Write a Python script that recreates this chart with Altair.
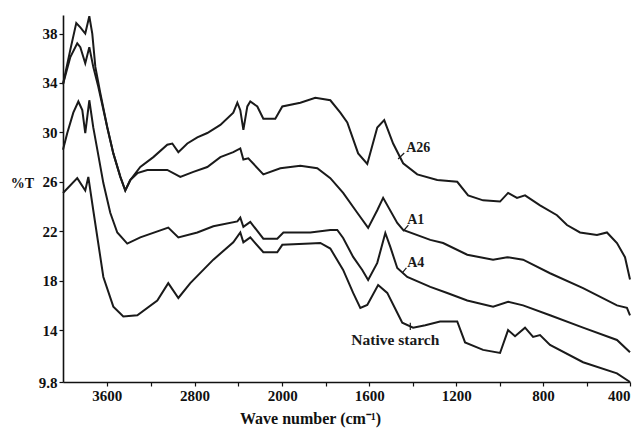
import altair as alt
import pandas as pd

# FTIR transmittance spectra (wavenumber in cm-1, transmittance in %T)
wn_a26 = [4000, 3933, 3879, 3842, 3797, 3760, 3733, 3705, 3660, 3596, 3541, 3477, 3432,
          3386, 3295, 3176, 3049, 3003, 2948, 2866, 2775, 2684, 2565, 2447, 2410, 2383,
          2355, 2319, 2292, 2228, 2173, 2064, 2000, 1917, 1848, 1779, 1733, 1701, 1651,
          1609, 1563, 1531, 1490, 1444, 1379, 1287, 1195, 1145, 1076, 998, 961, 920, 883,
          814, 736, 690, 630, 552, 506, 460, 423, 400]
t_a26 = [33.9, 36.7, 38.85, 38.5, 38.0, 39.4, 38.0, 35.3, 33.2, 30.4, 28.3, 26.4, 25.3,
         26.15, 27.2, 28.0, 29.0, 29.1, 28.4, 29.1, 29.6, 29.95, 30.6, 31.6, 32.4, 31.8,
         30.2, 32.1, 32.5, 32.1, 31.1, 31.1, 32.1, 32.4, 32.8, 32.6, 31.6, 30.8, 28.3,
         27.45, 30.4, 31.0, 29.1, 27.5, 26.6, 26.15, 26.0, 24.9, 24.5, 24.4, 25.1, 24.7, 24.9,
         24.1, 23.3, 22.5, 21.9, 21.7, 21.9, 21.05, 19.9, 18.1]

wn_a1 = [4000, 3933, 3870, 3842, 3797, 3760, 3724, 3678, 3596, 3541, 3477, 3432, 3386,
         3322, 3231, 3049, 2930, 2811, 2684, 2565, 2447, 2383, 2355, 2310, 2173, 2018,
         1917, 1839, 1779, 1720, 1655, 1605, 1563, 1536, 1471, 1444, 1319, 1260, 1149,
         1030, 965, 892, 768, 616, 460, 414, 400]
t_a1 = [33.9, 36.1, 37.2, 36.9, 35.6, 36.9, 35.3, 33.7, 30.4, 28.3, 26.4, 25.3, 26.15,
        26.7, 26.96, 26.96, 26.4, 26.8, 27.2, 28.0, 28.4, 28.7, 27.8, 27.9, 26.6, 27.1,
        27.3, 27.1, 26.3, 25.1, 23.5, 22.27, 23.7, 24.7, 22.67, 22.1, 21.3, 21.05, 20.1,
        19.7, 19.9, 19.7, 18.6, 17.4, 16.0, 15.8, 15.2]

wn_a4 = [4000, 3961, 3906, 3860, 3824, 3797, 3760, 3724, 3687, 3632, 3569, 3505, 3414,
         3295, 3040, 2948, 2775, 2629, 2410, 2383, 2355, 2292, 2173, 2046, 1995, 1871,
         1779, 1747, 1720, 1674, 1632, 1605, 1563, 1526, 1503, 1471, 1425, 1319, 1241, 1149,
         1030, 961, 892, 768, 616, 460, 400]
t_a4 = [28.6, 29.95, 31.6, 32.5, 31.8, 29.95, 32.6, 30.4, 28.6, 25.9, 23.5, 21.9, 21.0,
        21.5, 22.3, 21.5, 21.9, 22.4, 22.8, 23.1, 22.35, 22.75, 21.4, 21.4, 21.9, 21.9,
        22.1, 22.1, 21.46, 19.92, 18.87, 18.06, 19.44, 21.86, 20.73, 19.03, 18.3, 17.5, 17.0,
        16.4, 15.9, 16.3, 16.0, 15.2, 14.2, 13.2, 12.2]

wn_native = [4000, 3870, 3797, 3769, 3724, 3632, 3541, 3450, 3322, 3140, 3040, 2948, 2839,
             2629, 2447, 2383, 2355, 2292, 2173, 2046, 2000, 1871, 1825, 1779, 1720, 1674,
             1641, 1609, 1559, 1517, 1471, 1448, 1398, 1342, 1274, 1195, 1159, 1076, 998, 961,
             929, 883, 846, 814, 768, 616, 460, 400]
t_native = [25.1, 26.3, 25.3, 26.4, 23.7, 18.3, 15.9, 15.1, 15.2, 16.4, 17.8, 16.6, 17.8,
            19.7, 21.1, 21.9, 21.1, 21.5, 20.3, 20.3, 20.9, 21.0, 21.05, 20.6, 18.87, 17.01,
            15.79, 16.04, 17.65, 17.01, 15.4, 14.6, 14.2, 14.4, 14.7, 14.7, 13.0, 12.4, 12.15,
            14.0, 13.5, 14.2, 13.45, 13.6, 12.8, 11.4, 10.5, 9.8]

# curve labels and their short leader lines
label_text = ["A26", "A1", "A4", "Native starch"]
label_wn = [1430, 1425, 1425, 1480]
label_t = [28.7, 22.9, 19.4, 13.2]
label_align = ["left", "left", "left", "center"]
label_size = [14, 14, 14, 15.5]
leader_wn = [1467, 1444, 1448, 1411]
leader_wn2 = [1439, 1420, 1429, 1411]
leader_t = [27.85, 22.0, 18.63, 14.6]
leader_t2 = [28.33, 22.5, 19.03, 14.0]

x_ticks = [3600, 3200, 2800, 2400, 2000, 1800, 1600, 1400, 1200, 1000, 800, 600, 400]
x_labels = [3600, 2800, 2000, 1600, 1200, 800, 400]
y_ticks = [9.8, 12, 14, 16, 18, 20, 22, 24, 26, 28, 30, 32, 34, 36, 38]
y_labels = [9.8, 14, 18, 22, 26, 30, 34, 38]

W, H = 567, 367
FONT = "Liberation Serif"
INK = "#1a1a1a"

frames = []
for name, wn, t in [("A26", wn_a26, t_a26), ("A1", wn_a1, t_a1),
                    ("A4", wn_a4, t_a4), ("Native starch", wn_native, t_native)]:
    frames.append(pd.DataFrame({"sample": name, "wn": wn, "t": t}))
spectra = pd.concat(frames, ignore_index=True)

labels = pd.DataFrame({"text": label_text, "wn": label_wn, "t": label_t,
                       "align": label_align, "size": label_size})
leaders = pd.DataFrame({"wn": leader_wn, "wn2": leader_wn2, "t": leader_t, "t2": leader_t2})

# wavenumber axis is compressed above 2000 cm-1 (half scale)
x_scale = alt.Scale(domain=[4000, 2000, 400], range=[0, 219.3, W], nice=False, zero=False)
y_scale = alt.Scale(domain=[9.8, 39.5], nice=False, zero=False)

x_lab_expr = "indexof(" + str(x_labels) + ", datum.value) >= 0 ? format(datum.value, 'd') : ''"
y_lab_expr = ("datum.value == 9.8 ? '9.8' : (indexof(" + str(y_labels) +
              ", datum.value) >= 0 ? format(datum.value, 'd') : '')")

x_axis = alt.Axis(values=x_ticks, labelExpr=x_lab_expr, title="Wave number (cm\u207b\u00b9)",
                  titleX=247, titleY=36, titleBaseline="middle", titleFontSize=16,
                  labelFlush=True, tickSize=4, labelPadding=2)
y_axis = alt.Axis(values=y_ticks, labelExpr=y_lab_expr, title="%T", titleAngle=0,
                  titleX=-41, titleY=168, titleAlign="center", titleBaseline="middle",
                  titleFontSize=14, tickSize=4, labelPadding=2)

lines = alt.Chart(spectra).mark_line(color=INK, strokeWidth=2.0).encode(
    x=alt.X("wn:Q", scale=x_scale, axis=x_axis),
    y=alt.Y("t:Q", scale=y_scale, axis=y_axis),
    detail="sample:N",
    order=alt.Order("wn:Q", sort="descending"),
)


def label_layer(df, align):
    return alt.Chart(df).mark_text(font=FONT, fontWeight="bold", color=INK,
                                   baseline="middle", align=align).encode(
        x=alt.X("wn:Q", scale=x_scale),
        y=alt.Y("t:Q", scale=y_scale),
        text="text:N",
        size=alt.Size("size:Q", scale=None, legend=None),
    )


text_left = label_layer(labels[labels["align"] == "left"], "left")
text_center = label_layer(labels[labels["align"] == "center"], "center")

ticks = alt.Chart(leaders).mark_rule(color=INK, strokeWidth=1.2).encode(
    x=alt.X("wn:Q", scale=x_scale),
    x2="wn2:Q",
    y=alt.Y("t:Q", scale=y_scale),
    y2="t2:Q",
)

chart = alt.layer(lines, ticks, text_left, text_center).properties(
    width=W, height=H,
    autosize=alt.AutoSizeParams(type="none"),
    padding={"left": 63, "top": 15, "right": 4, "bottom": 47},
).configure_view(stroke=None).configure_axis(
    grid=False, domainColor="#111", domainWidth=1.6, tickColor="#111", tickWidth=1.2,
    labelFont=FONT, labelFontWeight="bold", labelFontSize=15, labelColor="#111",
    titleFont=FONT, titleFontWeight="bold", titleColor="#111",
)

chart.save("out.html", embed_options={"renderer": "svg", "actions": False})
